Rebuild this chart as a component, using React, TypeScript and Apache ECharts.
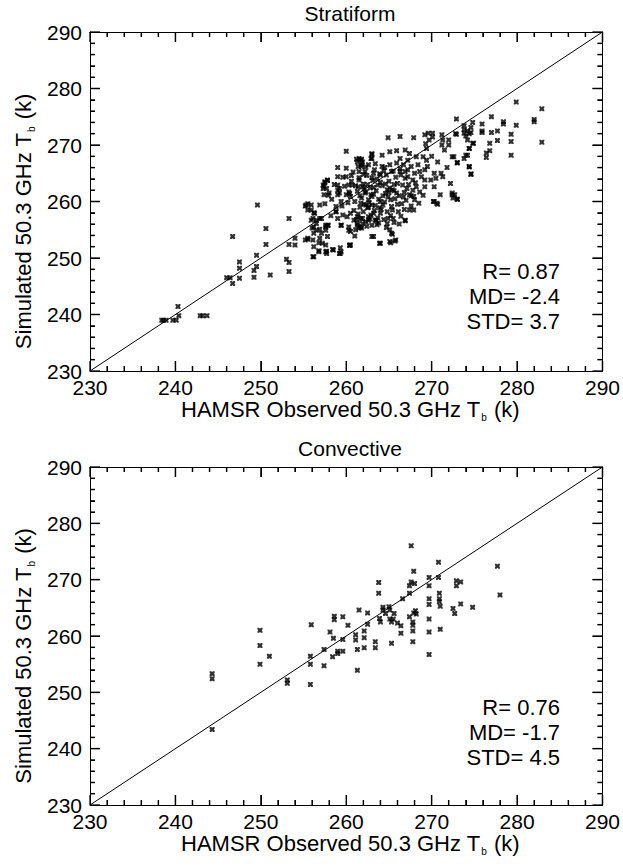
import React, { useEffect, useRef } from "react";
import * as echarts from "echarts";

const axisTicks = [230, 240, 250, 260, 270, 280, 290];
const axisMin = 230;
const axisMax = 290;
const minorPerMajor = 5;

const panelTitles = ["Stratiform", "Convective"];
const xAxisTitle = "HAMSR Observed 50.3 GHz T";
const yAxisTitle = "Simulated 50.3 GHz T";

const stratiformStats = ["R= 0.87", "MD= -2.4", "STD= 3.7"];
const convectiveStats = ["R= 0.76", "MD= -1.7", "STD= 4.5"];

const oneToOneLine = [[230, 230], [290, 290]];

const stratiformPoints = [
  [238.4, 239.0], [238.6, 239.0], [238.9, 239.0], [239.7, 239.0], [240.1, 239.0],
  [240.3, 241.4], [240.4, 239.8], [242.9, 239.8], [243.2, 239.8], [243.7, 239.8],
  [246.0, 246.5], [246.4, 246.5], [246.7, 245.5], [246.7, 253.8], [247.5, 249.3],
  [247.5, 248.2], [247.5, 246.4], [249.6, 259.4], [249.5, 250.5], [249.5, 248.5],
  [249.2, 247.8], [249.2, 246.6], [251.1, 247.0], [250.6, 255.2], [250.6, 252.4],
  [253.3, 257.0], [253.3, 252.4], [254.0, 253.5], [254.0, 252.3], [253.0, 249.8],
  [253.3, 249.2], [253.3, 247.6], [255.2, 259.2], [255.5, 259.6], [255.2, 253.2],
  [255.5, 253.3], [255.9, 258.5], [256.2, 258.0], [255.9, 256.7], [256.5, 256.7],
  [257.1, 257.0], [257.1, 254.4], [256.2, 255.5], [256.5, 254.9], [256.2, 254.4],
  [256.2, 252.0], [256.2, 250.2], [256.8, 252.7], [256.8, 251.3], [257.6, 254.9],
  [257.9, 255.8], [257.6, 255.8], [257.3, 262.9], [257.5, 263.3], [257.8, 263.7],
  [257.3, 262.3], [257.9, 261.1], [256.9, 259.4], [257.5, 259.6], [257.7, 251.2],
  [257.7, 250.8], [258.4, 251.5], [259.3, 251.8], [259.3, 250.8], [259.0, 266.0],
  [259.0, 264.4], [259.0, 262.9], [259.0, 262.0], [259.0, 261.2], [259.4, 260.0],
  [258.8, 259.1], [258.8, 258.2], [260.0, 268.9], [260.0, 265.9], [260.0, 264.4],
  [260.3, 262.9], [259.4, 255.8], [260.4, 252.2], [261.0, 253.9], [260.3, 254.9],
  [261.2, 267.5], [261.8, 267.5], [261.8, 266.5], [261.4, 266.2], [263.0, 268.4],
  [263.0, 267.6], [261.5, 263.8], [261.9, 262.6], [262.3, 261.7], [261.7, 259.7],
  [262.3, 259.4], [262.6, 259.0], [263.0, 259.4], [261.3, 257.3], [261.9, 257.0],
  [261.3, 255.8], [261.8, 255.3], [262.6, 256.7], [263.0, 253.8],
  [264.9, 271.3], [266.3, 271.5], [267.9, 271.3], [269.2, 271.8], [269.6, 272.1],
  [270.1, 272.1], [270.1, 271.4], [269.3, 270.2], [269.4, 269.4], [269.7, 270.9],
  [271.2, 271.8], [271.3, 270.9], [271.2, 270.0], [271.5, 269.1], [272.0, 270.9],
  [272.0, 270.0], [272.8, 272.0], [273.8, 272.1], [274.4, 272.0], [274.9, 270.3],
  [274.4, 269.4], [272.4, 267.9], [273.0, 266.8], [274.4, 266.2], [274.6, 264.9],
  [270.3, 265.0], [271.1, 265.0], [270.5, 264.1], [271.3, 264.4], [271.0, 261.2],
  [270.2, 260.0], [270.6, 259.7], [272.4, 261.5], [272.5, 260.6], [273.0, 260.4],
  [269.2, 263.8], [269.9, 263.8], [269.2, 262.6], [270.3, 262.6], [268.4, 266.5],
  [268.6, 265.3], [269.2, 265.6], [268.8, 264.4], [269.0, 267.9], [269.4, 267.3],
  [268.2, 267.9], [267.4, 268.5], [266.9, 269.1], [265.9, 269.0], [265.1, 268.8],
  [264.2, 268.2], [263.0, 268.4], [262.9, 267.6], [266.3, 267.6], [267.2, 267.3],
  [266.7, 266.5], [265.9, 266.8], [265.1, 266.5], [265.3, 265.3], [264.2, 266.2],
  [264.0, 264.7], [263.2, 265.0], [262.6, 266.5], [261.9, 267.0], [261.5, 267.6],
  [267.6, 266.2], [268.0, 265.0], [267.8, 263.8], [267.2, 264.4], [266.9, 265.3],
  [266.3, 265.3], [268.2, 262.6], [267.8, 262.0], [268.6, 261.7], [267.4, 261.2],
  [267.1, 262.3], [268.0, 260.3], [267.9, 260.9], [267.4, 258.5], [267.9, 258.5],
  [266.9, 256.7], [265.5, 257.0], [265.1, 255.0], [265.3, 254.4], [265.8, 253.2],
  [265.1, 252.9], [264.0, 252.6], [263.2, 253.8], [263.0, 255.8], [263.4, 256.7],
  [262.3, 256.4], [261.7, 255.5], [261.7, 257.0], [261.1, 255.0],
  [279.9, 277.6], [282.9, 276.4], [282.9, 270.5], [282.0, 274.5], [282.0, 274.1],
  [279.9, 273.5], [278.4, 274.1], [278.4, 273.7], [277.0, 275.0], [275.9, 273.7],
  [275.9, 272.5], [275.9, 272.2], [277.0, 272.2], [277.7, 272.5], [277.7, 270.8],
  [276.8, 270.3], [276.8, 269.0], [276.4, 268.6], [276.4, 267.8], [279.3, 271.9],
  [279.3, 270.6], [279.3, 268.2], [274.8, 274.0], [274.6, 273.1], [274.6, 272.2],
  [274.2, 272.5], [273.8, 273.4], [273.8, 272.7], [274.0, 271.6], [274.2, 270.9],
  [274.8, 270.3], [272.9, 274.6], [272.9, 271.9], [274.4, 269.4], [274.0, 268.2],
  [273.8, 267.6], [274.2, 268.2], [274.4, 266.1], [274.6, 264.8], [272.6, 267.9],
  [273.0, 266.9], [273.0, 260.4], [272.7, 261.2],
  [261.3, 267.0], [261.7, 267.3], [261.8, 266.2], [261.5, 265.3], [257.5, 263.5],
  [257.8, 263.8], [257.4, 262.6], [257.7, 262.3], [257.4, 261.2], [258.0, 261.5],
  [259.2, 262.3], [259.2, 261.5], [260.0, 261.2], [260.3, 261.7], [260.5, 260.9],
  [255.3, 259.4], [255.9, 259.4], [255.5, 258.5], [256.3, 257.9], [256.1, 257.0],
  [256.9, 257.0], [256.5, 256.1], [256.0, 255.3], [256.9, 255.1], [257.6, 255.5],
  [257.8, 255.8], [258.8, 258.2], [259.0, 257.0], [259.6, 257.6], [260.1, 257.3],
  [260.5, 257.9], [260.9, 256.7], [261.3, 256.1], [259.4, 255.8], [260.3, 255.5],
  [260.5, 254.7], [261.5, 255.3], [255.5, 253.5], [256.1, 253.2], [256.9, 253.5],
  [257.2, 252.6], [257.6, 252.3], [257.8, 253.8], [256.8, 251.1], [257.6, 251.1],
  [258.5, 251.4], [259.4, 251.1], [260.5, 252.3], [256.1, 250.2], [265.4, 254.2],
  [265.2, 252.7], [265.7, 253.0], [263.9, 252.6], [260.4, 252.3], [259.2, 250.8],
  [266.9, 256.6], [270.3, 260.0], [270.7, 259.5], [272.4, 261.2],
  [261.5, 264.2], [262.0, 263.1], [262.4, 264.6], [262.8, 262.4], [263.1, 263.7],
  [263.5, 261.9], [263.9, 264.9], [264.2, 262.8], [264.6, 261.4], [265.0, 263.6],
  [265.4, 262.1], [265.8, 264.3], [266.2, 261.0], [266.6, 262.9], [267.0, 260.2],
  [261.3, 261.8], [261.8, 260.6], [262.2, 261.5], [262.7, 259.8], [263.0, 260.9],
  [263.4, 259.3], [263.8, 260.4], [264.1, 258.6], [264.5, 259.9], [264.9, 260.8],
  [265.3, 259.1], [265.7, 260.5], [266.1, 258.2], [266.5, 259.6], [261.6, 259.0],
  [262.0, 258.2], [262.5, 258.9], [262.9, 257.6], [263.3, 258.4], [263.7, 257.1],
  [264.0, 257.9], [264.4, 256.8], [264.8, 258.2], [265.2, 257.5], [265.6, 256.3],
  [261.2, 256.8], [261.9, 256.1], [262.4, 255.6], [263.6, 255.9], [264.7, 255.4],
  [262.3, 266.1], [263.4, 266.7], [264.5, 266.0], [260.7, 262.9], [260.9, 258.4],
  [263.2, 262.5], [264.3, 261.0], [262.6, 260.3], [263.9, 258.9], [265.1, 262.4],
  [266.0, 263.2], [266.8, 261.6], [267.3, 263.0], [267.6, 259.2], [261.0, 260.0],
  [262.1, 262.3], [263.0, 264.2], [264.0, 263.4], [264.7, 264.7], [265.5, 265.4],
  [266.3, 265.8], [265.9, 261.5], [266.9, 264.1], [260.6, 264.6], [260.4, 261.4],
  [261.4, 257.8], [262.8, 256.9], [263.5, 256.7], [264.9, 257.0], [266.4, 257.4],
  [258.3, 260.4], [258.6, 263.0], [259.5, 259.2], [259.8, 262.7], [260.2, 259.8],
  [260.6, 263.6], [260.8, 265.2], [261.1, 262.8], [261.6, 261.0], [262.2, 265.3],
  [262.5, 263.0], [262.9, 261.2], [263.3, 265.6], [263.7, 262.9], [264.0, 260.0],
  [264.4, 265.4], [264.8, 262.1], [265.2, 260.3], [265.6, 263.0], [266.0, 259.5],
  [266.4, 264.7], [266.8, 258.6], [267.2, 265.6], [267.6, 261.0], [268.1, 263.3],
  [268.5, 259.7], [269.0, 261.1], [269.5, 266.2], [270.0, 268.0], [270.7, 267.0],
  [271.8, 266.0], [272.2, 263.2], [262.1, 259.5], [262.6, 257.3], [263.2, 257.9],
  [263.8, 256.2], [264.3, 259.4], [264.8, 256.1], [265.4, 258.5], [266.2, 256.0],
  [262.0, 264.8], [263.6, 264.0], [265.6, 261.9], [266.7, 260.8], [261.4, 262.6],
  [263.2, 261.3], [264.6, 263.1], [265.0, 261.6], [259.6, 264.3], [258.2, 257.5]
];

const convectivePoints = [
  [244.3, 253.3], [244.3, 252.4], [244.3, 243.4], [249.9, 261.0], [249.9, 258.3],
  [249.9, 255.0], [251.0, 256.4], [253.1, 252.2], [253.1, 251.6], [255.9, 262.0],
  [255.8, 256.4], [255.8, 255.0], [255.8, 251.4], [257.4, 257.6], [257.4, 254.7],
  [258.1, 260.7], [258.5, 259.6], [258.6, 263.5], [258.6, 262.9], [259.6, 263.4],
  [260.2, 261.9], [259.6, 259.4], [259.0, 257.3], [259.0, 256.9], [259.6, 257.3],
  [258.4, 256.3], [261.1, 260.2], [261.1, 259.3], [261.5, 264.6], [261.3, 257.6],
  [261.3, 253.9], [262.1, 260.9], [262.1, 259.7], [262.1, 257.9], [262.5, 264.1],
  [262.5, 262.1], [263.4, 259.0], [263.4, 257.9], [263.8, 269.5], [263.8, 267.6],
  [264.3, 265.1], [265.0, 265.2], [264.3, 264.6], [265.1, 264.6], [264.6, 264.0],
  [263.9, 263.1], [264.0, 262.5], [265.1, 263.0], [265.5, 263.0], [265.6, 264.0],
  [265.3, 262.5], [266.0, 262.3], [266.4, 261.8], [266.4, 260.5], [265.3, 258.7],
  [266.6, 266.6], [267.4, 267.6], [267.4, 268.9], [267.6, 276.0], [267.6, 269.6],
  [268.0, 269.3], [267.9, 271.5], [267.4, 263.4], [267.9, 264.1], [268.1, 264.5],
  [268.2, 263.9], [267.8, 262.5], [267.8, 261.9], [267.8, 260.9], [267.8, 259.0],
  [269.7, 270.4], [269.7, 268.9], [269.7, 266.6], [269.7, 265.6], [269.7, 263.0],
  [269.7, 260.7], [269.7, 256.7], [270.8, 273.1], [270.8, 270.4], [270.9, 267.6],
  [270.9, 266.6], [270.9, 266.1], [271.0, 265.3], [271.0, 261.2], [272.9, 269.8],
  [273.4, 269.6], [272.9, 268.9], [272.5, 264.9], [272.7, 264.0], [273.4, 265.7],
  [274.8, 265.1], [277.7, 272.4], [278.0, 267.3]
];

const FONT = "'Liberation Sans', Arial, Helvetica, sans-serif";
const markerPath =
  "path://M0,0H2L3,1L4,0H6V2L5,3L6,4V6H4L3,5L2,6H0V4L1,3L0,2Z";

// tick values (major + minor) derived from the axis tick list
function tickValues() {
  const out: { v: number; major: boolean }[] = [];
  for (let i = 0; i < axisTicks.length - 1; i++) {
    const step = (axisTicks[i + 1] - axisTicks[i]) / minorPerMajor;
    for (let k = 0; k < minorPerMajor; k++) {
      out.push({ v: axisTicks[i] + k * step, major: k === 0 });
    }
  }
  out.push({ v: axisTicks[axisTicks.length - 1], major: true });
  return out;
}

// inward tick marks on all four sides, as rect symbols positioned by the axes
function tickItems() {
  const items: any[] = [];
  const w = 1.6;
  tickValues().forEach(({ v, major }) => {
    const len = major ? 10 : 5;
    items.push({ value: [v, axisMin], symbolSize: [w, len], symbolOffset: [0, -len / 2] });
    items.push({ value: [v, axisMax], symbolSize: [w, len], symbolOffset: [0, len / 2] });
    items.push({ value: [axisMin, v], symbolSize: [len, w], symbolOffset: [len / 2, 0] });
    items.push({ value: [axisMax, v], symbolSize: [len, w], symbolOffset: [-len / 2, 0] });
  });
  return items;
}

function makeAxis(opts: any) {
  return {
    type: "value",
    min: axisMin,
    max: axisMax,
    interval: 10,
    axisLine: { show: true, onZero: false, lineStyle: { color: "#000", width: 1 } },
    axisTick: { show: true, inside: true, length: 10, lineStyle: { color: "#000", width: 1 } },
    minorTick: { show: true, splitNumber: 5, length: 5, lineStyle: { color: "#000", width: 1 } },
    splitLine: { show: false },
    minorSplitLine: { show: false },
    ...opts,
  };
}

const richName = (text: string) => `{a|${text}}{s|b}{a| (k)}`;
const richStyle = (padding: number[]) => ({
  color: "#000",
  padding,
  rich: {
    a: { fontSize: 22, fontFamily: FONT, color: "#000", lineHeight: 26 },
    s: { fontSize: 10, fontFamily: FONT, color: "#000", verticalAlign: "bottom", lineHeight: 12, padding: [0, 1, 0, 1] },
  },
});

const labelStyle = { show: true, color: "#000", fontSize: 21, fontFamily: FONT, lineHeight: 16 };

export default function App() {
  const ref = useRef<HTMLDivElement>(null);

  useEffect(() => {
    if (!ref.current) return;
    const chart = echarts.init(ref.current, null, { renderer: "svg" });

    const grids = [
      { left: 90, right: 12, top: 32, height: 339 },
      { left: 90, right: 12, top: 467, height: 338 },
    ];

    const xAxes: any[] = [];
    const yAxes: any[] = [];
    grids.forEach((_, i) => {
      xAxes.push(
        makeAxis({
          gridIndex: i,
          position: "bottom",
          axisLabel: { ...labelStyle, margin: 8 },
          name: richName(xAxisTitle),
          nameLocation: "middle",
          nameGap: 25,
          nameTextStyle: richStyle([0, 0, 0, 8]),
        })
      );
      xAxes.push(makeAxis({ gridIndex: i, position: "top", axisLabel: { show: false } }));
      yAxes.push(
        makeAxis({
          gridIndex: i,
          position: "left",
          axisLabel: { ...labelStyle, margin: 8 },
          name: richName(yAxisTitle),
          nameLocation: "middle",
          nameGap: 50,
          nameRotate: 90,
          nameTextStyle: richStyle([0, 40, 0, 0]),
        })
      );
      yAxes.push(makeAxis({ gridIndex: i, position: "right", axisLabel: { show: false } }));
    });

    const scatterStyle = {
      type: "scatter",
      symbol: markerPath,
      symbolSize: 5,
      itemStyle: { color: "#000" },
    };
    const lineStyle = {
      type: "line",
      showSymbol: false,
      symbol: "none",
      lineStyle: { color: "#000", width: 1 },
      silent: true,
    };
    const tickSeries = (i: number) => ({
      type: "scatter",
      xAxisIndex: i,
      yAxisIndex: i,
      symbol: "rect",
      silent: true,
      clip: false,
      z: 5,
      itemStyle: { color: "#000" },
      data: tickItems(),
    });

    const statsText = (lines: string[], top: number) =>
      lines.map((t, k) => ({
        type: "text",
        x: 560,
        y: top + k * 25,
        style: {
          text: t,
          fill: "#000",
          fontSize: 22,
          fontFamily: FONT,
          align: "right",
          verticalAlign: "middle",
        },
      }));

    const option: any = {
      animation: false,
      backgroundColor: "#fff",
      grid: grids,
      xAxis: xAxes,
      yAxis: yAxes,
      series: [
        tickSeries(0),
        { ...lineStyle, xAxisIndex: 0, yAxisIndex: 0, data: oneToOneLine },
        { ...scatterStyle, xAxisIndex: 0, yAxisIndex: 0, data: stratiformPoints },
        tickSeries(2),
        { ...lineStyle, xAxisIndex: 2, yAxisIndex: 2, data: oneToOneLine },
        { ...scatterStyle, xAxisIndex: 2, yAxisIndex: 2, data: convectivePoints },
      ],
      graphic: [
        {
          type: "text",
          x: 350,
          y: 13,
          style: { text: panelTitles[0], fill: "#000", fontSize: 21, fontFamily: FONT, align: "center", verticalAlign: "middle" },
        },
        {
          type: "text",
          x: 350,
          y: 448,
          style: { text: panelTitles[1], fill: "#000", fontSize: 21, fontFamily: FONT, align: "center", verticalAlign: "middle" },
        },
        ...statsText(stratiformStats, 271),
        ...statsText(convectiveStats, 707),
      ],
    };

    chart.setOption(option);
    return () => chart.dispose();
  }, []);

  return (
    <div
      ref={ref}
      style={{ position: "absolute", left: 0, top: 0, width: 623, height: 867, background: "#fff" }}
    />
  );
}
